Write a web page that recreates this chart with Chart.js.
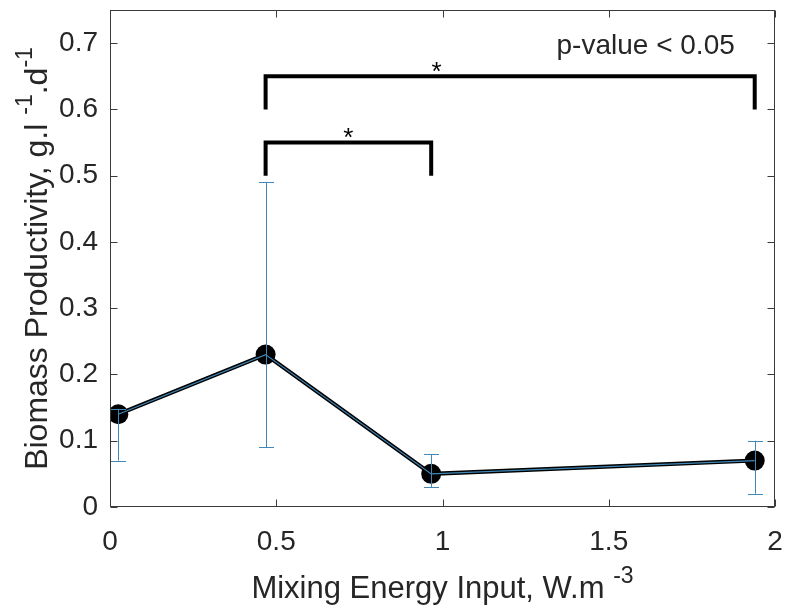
<!DOCTYPE html>
<html>
<head>
<meta charset="utf-8">
<script src="https://cdn.jsdelivr.net/npm/chart.js@4.4.0/dist/chart.umd.min.js"></script>
<style>
  html, body { margin: 0; padding: 0; background: #fff; }
</style>
</head>
<body>
<canvas id="MyChart" width="785" height="609"></canvas>
<script>
// mixing energy input (W.m-3) and biomass productivity (g.l-1.d-1)
const energy = [0.025, 0.468, 0.966, 1.939]
const productivity = [0.14, 0.23, 0.05, 0.07]
const errLow = [0.07, 0.09, 0.03, 0.02]
const errHigh = [0.148, 0.49, 0.08, 0.10]

const xTicks = [0, 0.5, 1, 1.5, 2]
const yTicks = [0, 0.1, 0.2, 0.3, 0.4, 0.5, 0.6, 0.7]

// significance brackets between points (by index)
const bracketFrom = [1, 1]
const bracketTo = [2, 3]
const bracketTop = [0.55, 0.65]
const bracketLeg = 0.05
const starX = [0.717, 0.982]
const starY = [0.565, 0.664]
const noteText = 'p-value < 0.05'
const noteX = 1.343
const noteY = 0.684

const FONT = '"Liberation Sans", Arial, Helvetica, sans-serif'
const INK = '#262626'
const BLUE = '#4088b8'

const pts = energy.map((x, i) => ({ x: x, y: productivity[i] }))

// writes a label made of normal and raised pieces, starting at x=0 on the current baseline
function richWidth(ctx, parts, size, supSize) {
  let w = 0
  parts.forEach(p => {
    ctx.font = (p.sup ? supSize : size) + 'px ' + FONT
    w += ctx.measureText(p.t).width
  })
  return w
}
function richDraw(ctx, parts, size, supSize, rise) {
  let x = 0
  parts.forEach(p => {
    ctx.font = (p.sup ? supSize : size) + 'px ' + FONT
    ctx.fillText(p.t, x, p.sup ? -rise : 0)
    x += ctx.measureText(p.t).width
  })
}

const xTitle = [{ t: 'Mixing Energy Input, W.m ' }, { t: '-3', sup: true }]
const yTitle = [{ t: 'Biomass Productivity, g.l ' }, { t: '-1', sup: true }, { t: '.d' }, { t: '-1', sup: true }]

const decorations = {
  id: 'decorations',
  afterDatasetsDraw(chart) {
    const ctx = chart.ctx
    const xs = chart.scales.x
    const ys = chart.scales.y
    const a = chart.chartArea

    // error bars
    ctx.save()
    ctx.strokeStyle = BLUE
    ctx.lineWidth = 1
    energy.forEach((x, i) => {
      const px = Math.round(xs.getPixelForValue(x)) + 0.5
      const top = ys.getPixelForValue(errHigh[i])
      const bot = ys.getPixelForValue(errLow[i])
      ctx.beginPath()
      ctx.moveTo(px, top); ctx.lineTo(px, bot)
      ctx.moveTo(px - 7.5, Math.round(top) + 0.5); ctx.lineTo(px + 7.5, Math.round(top) + 0.5)
      ctx.moveTo(px - 7.5, Math.round(bot) + 0.5); ctx.lineTo(px + 7.5, Math.round(bot) + 0.5)
      ctx.stroke()
    })
    ctx.restore()

    // brackets
    ctx.save()
    ctx.strokeStyle = '#000'
    ctx.lineWidth = 4
    ctx.lineJoin = 'miter'
    ctx.lineCap = 'butt'
    bracketFrom.forEach((f, i) => {
      const x1 = xs.getPixelForValue(energy[f])
      const x2 = xs.getPixelForValue(energy[bracketTo[i]])
      const yt = ys.getPixelForValue(bracketTop[i])
      const yb = ys.getPixelForValue(bracketTop[i] - bracketLeg)
      ctx.beginPath()
      ctx.moveTo(x1, yb); ctx.lineTo(x1, yt); ctx.lineTo(x2, yt); ctx.lineTo(x2, yb)
      ctx.stroke()
    })
    ctx.fillStyle = '#000'
    ctx.font = '26px ' + FONT
    ctx.textAlign = 'center'
    ctx.textBaseline = 'alphabetic'
    starX.forEach((x, i) => {
      const m = ctx.measureText('*')
      const mid = (m.actualBoundingBoxAscent - m.actualBoundingBoxDescent) / 2
      ctx.fillText('*', xs.getPixelForValue(x), ys.getPixelForValue(starY[i]) + mid)
    })
    ctx.fillStyle = INK
    ctx.textAlign = 'left'
    ctx.font = '28px ' + FONT
    ctx.fillText(noteText, xs.getPixelForValue(noteX), ys.getPixelForValue(noteY))
    ctx.restore()

    // box and inward ticks
    ctx.save()
    ctx.strokeStyle = '#3a3a3a'
    ctx.lineWidth = 1
    const L = Math.round(a.left) + 0.5, R = Math.round(a.right) - 0.5
    const T = Math.round(a.top) + 0.5, B = Math.round(a.bottom) - 0.5
    ctx.strokeRect(L, T, R - L, B - T)
    ctx.beginPath()
    xTicks.forEach(v => {
      const px = Math.round(xs.getPixelForValue(v)) + 0.5
      ctx.moveTo(px, B); ctx.lineTo(px, B - 7)
      ctx.moveTo(px, T); ctx.lineTo(px, T + 7)
    })
    yTicks.forEach(v => {
      const py = Math.round(ys.getPixelForValue(v)) + 0.5
      ctx.moveTo(L, py); ctx.lineTo(L + 7, py)
      ctx.moveTo(R, py); ctx.lineTo(R - 7, py)
    })
    ctx.stroke()
    ctx.restore()

    // axis titles
    ctx.save()
    ctx.fillStyle = INK
    ctx.textAlign = 'left'
    ctx.textBaseline = 'alphabetic'
    let w = richWidth(ctx, xTitle, 31, 23)
    ctx.translate((a.left + a.right) / 2 - w / 2, a.bottom + 91)
    richDraw(ctx, xTitle, 31, 23, 15)
    ctx.restore()

    ctx.save()
    ctx.fillStyle = INK
    ctx.textAlign = 'left'
    ctx.textBaseline = 'alphabetic'
    w = richWidth(ctx, yTitle, 32, 23)
    ctx.translate(a.left - 63, (a.top + a.bottom) / 2 + w / 2)
    ctx.rotate(-Math.PI / 2)
    richDraw(ctx, yTitle, 32, 23, 15)
    ctx.restore()
  }
}

new Chart(document.getElementById('MyChart'), {
  type: 'line',
  data: {
    datasets: [
      { data: pts, borderColor: BLUE, borderWidth: 1.2, pointRadius: 0, order: 0 },
      { data: pts, borderColor: '#000', borderWidth: 4, pointRadius: 10,
        pointBackgroundColor: '#000', pointBorderColor: '#000', pointBorderWidth: 0, order: 1 }
    ]
  },
  options: {
    responsive: false,
    animation: false,
    layout: { padding: { top: 9, right: 8, left: 0, bottom: 0 } },
    plugins: { legend: { display: false }, tooltip: { enabled: false } },
    scales: {
      x: {
        type: 'linear', min: 0, max: 2,
        afterBuildTicks: s => { s.ticks = xTicks.map(v => ({ value: v })) },
        grid: { display: false, drawTicks: false },
        border: { display: false },
        ticks: { padding: 18, color: INK, maxRotation: 0, font: { family: FONT, size: 28 }, callback: v => String(v) },
        afterFit: s => { s.height = 102; s.paddingLeft = 0; s.paddingRight = 0 }
      },
      y: {
        type: 'linear', min: 0, max: 0.75,
        afterBuildTicks: s => { s.ticks = yTicks.map(v => ({ value: v })) },
        grid: { display: false, drawTicks: false },
        border: { display: false },
        ticks: { padding: 12, color: INK, font: { family: FONT, size: 28 }, callback: v => String(v) },
        afterFit: s => { s.width = 110; s.paddingTop = 0; s.paddingBottom = 0 }
      }
    }
  },
  plugins: [decorations]
})
</script>
</body>
</html>
